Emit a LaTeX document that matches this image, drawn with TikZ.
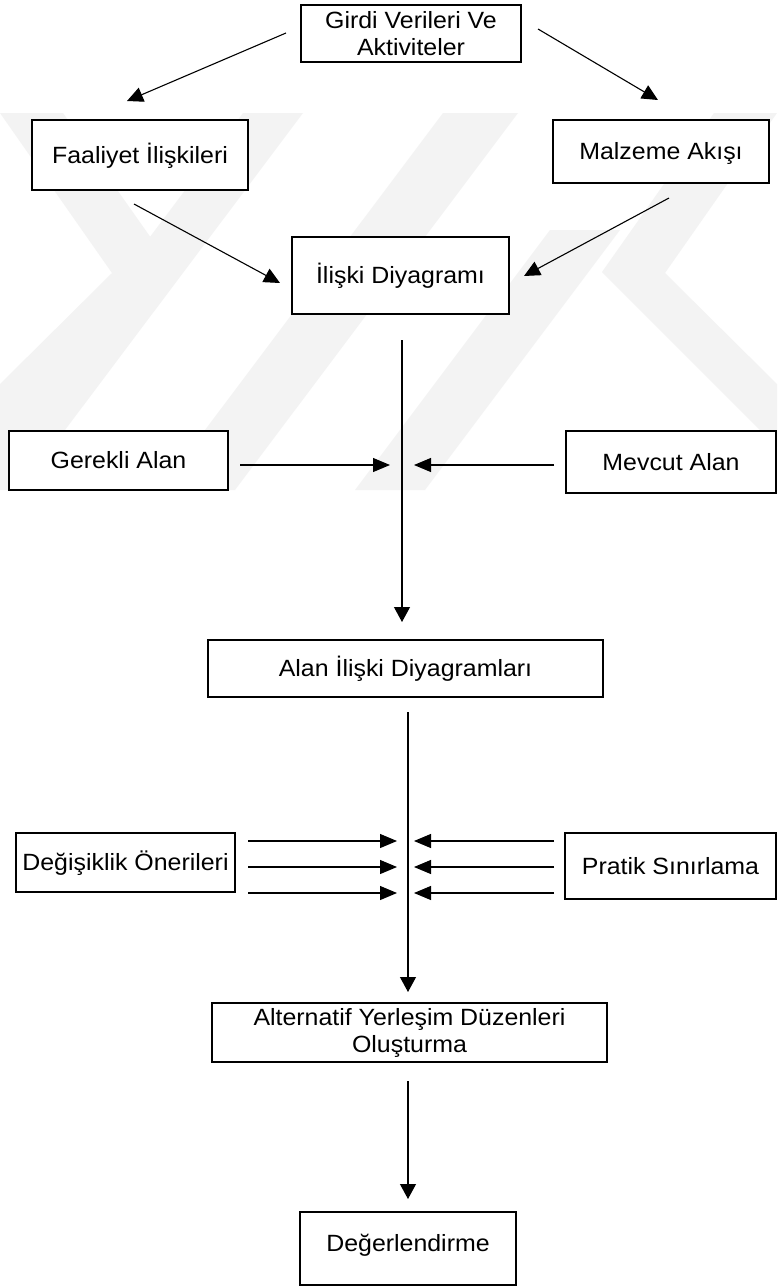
\documentclass[tikz,border=0pt]{standalone}
\usepackage{fontspec}
\setmainfont{Liberation Sans}[FakeStretch=1.06]
\usetikzlibrary{arrows.meta}
\definecolor{wmark}{HTML}{F3F3F3}
\tikzset{
  box/.style={draw=black, fill=white, line width=1.4pt, inner sep=2pt,
    font=\fontsize{23.5pt}{27pt}\selectfont},
  oneline/.style={box, text height=16.8pt, text depth=0pt},
  twoline/.style={box, align=center},
  flow/.style={line width=1.1pt, -{Triangle[length=16pt,width=15pt]}},
  flowh/.style={line width=1.1pt, -{Triangle[length=17pt,width=14pt]}},
  flowv/.style={line width=1.1pt, -{Triangle[length=15pt,width=16pt]}}
}
\begin{document}
\begin{tikzpicture}[x=1pt,y=-1pt]
\useasboundingbox (0,0) rectangle (777,1286);
\fill[white] (0,0) rectangle (777,1286);

% faint emblem in the background
\begin{scope}
  \clip (0,113) rectangle (777,490);
  \fill[wmark] (0,113) -- (63,113) -- (175,272) -- (0,447) -- (0,384) -- (112,273) -- cycle;
  \fill[wmark] (777,113) -- (714,113) -- (602,272) -- (777,447) -- (777,384) -- (665,273) -- cycle;
  \fill[wmark] (-40,490) -- (20,490) -- (303,113) -- (243,113) -- cycle;
  \fill[wmark] (160,490) -- (235,490) -- (518,113) -- (443,113) -- cycle;
  \fill[wmark] (355,490) -- (425,490) -- (620,230) -- (550,230) -- cycle;
\end{scope}

% boxes
\node[twoline, minimum width=220pt, minimum height=57pt] (girdi) at (411,33.5) {Girdi Verileri Ve\\Aktiviteler};
\node[oneline, minimum width=216pt, minimum height=70pt] (faal) at (140,155) {Faaliyet İlişkileri};
\node[oneline, minimum width=216pt, minimum height=63pt] (malz) at (661,151.5) {Malzeme Akışı};
\node[oneline, minimum width=217pt, minimum height=77pt] (iliski) at (400.5,275.5) {İlişki Diyagramı};
\node[oneline, minimum width=219pt, minimum height=59pt] (gerekli) at (118.5,460.5) {Gerekli Alan};
\node[oneline, minimum width=210pt, minimum height=62pt] (mevcut) at (671,462) {Mevcut Alan};
\node[oneline, minimum width=395pt, minimum height=57pt] (alan) at (405.5,668.5) {Alan İlişki Diyagramları};
\node[oneline, minimum width=219pt, minimum height=59pt] (degis) at (125.5,862.5) {Değişiklik Önerileri};
\node[oneline, minimum width=211pt, minimum height=66pt] (pratik) at (670.5,866) {Pratik Sınırlama};
\node[twoline, minimum width=395pt, minimum height=59pt] (altern) at (409.5,1032.5) {Alternatif Yerleşim Düzenleri\\Oluşturma};
\node[oneline, text depth=10pt, minimum width=216pt, minimum height=73pt] (deger) at (408,1248.5) {Değerlendirme};

% connector end points
\coordinate (a1s) at (286,33);   \coordinate (a1e) at (127,101);
\coordinate (a2s) at (538,29);   \coordinate (a2e) at (658,100);
\coordinate (a3s) at (134,204);  \coordinate (a3e) at (280,283);
\coordinate (a4s) at (669,198);  \coordinate (a4e) at (524,276);
\coordinate (v1s) at (402,340);  \coordinate (v1e) at (402,622);
\coordinate (h1s) at (240,465);  \coordinate (h1e) at (390,465);
\coordinate (h2s) at (554,465);  \coordinate (h2e) at (414,465);
\coordinate (v2s) at (408,712);  \coordinate (v2e) at (408,992);
\coordinate (v3s) at (408,1081); \coordinate (v3e) at (408,1199);
\foreach \k/\yy in {a/841,b/867,c/893}{
  \coordinate (l\k s) at (248,\yy); \coordinate (l\k e) at (397,\yy);
  \coordinate (r\k s) at (554,\yy); \coordinate (r\k e) at (414,\yy);
}

% connectors
\draw[flow] (a1s) -- (a1e);
\draw[flow] (a2s) -- (a2e);
\draw[flow] (a3s) -- (a3e);
\draw[flow] (a4s) -- (a4e);
\draw[flowv] (v1s) -- (v1e);
\draw[flowh] (h1s) -- (h1e);
\draw[flowh] (h2s) -- (h2e);
\draw[flowv] (v2s) -- (v2e);
\foreach \k in {a,b,c}{
  \draw[flowh] (l\k s) -- (l\k e);
  \draw[flowh] (r\k s) -- (r\k e);
}
\draw[flowv] (v3s) -- (v3e);
\end{tikzpicture}
\end{document}
